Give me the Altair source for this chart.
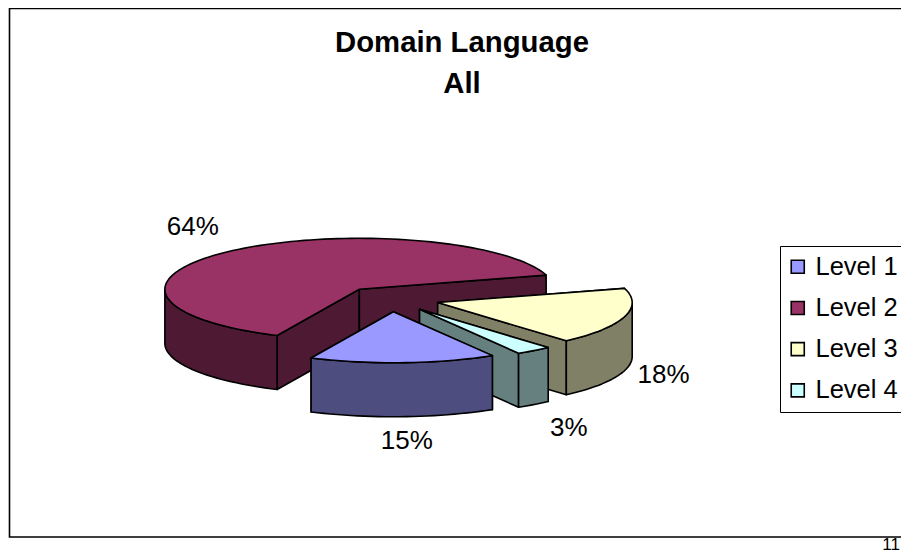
import math
import altair as alt

# ---- chart values ----
LEVELS = ["Level 1", "Level 2", "Level 3", "Level 4"]
SHARES = [15.45, 63.55, 18.0, 3.0]
TOP_COLORS = ["#9999FF", "#993366", "#FFFFCC", "#CCFFFF"]
SIDE_COLORS = ["#4D4D80", "#4D1933", "#808066", "#668080"]
TITLE_LINES = ["Domain Language", "All"]
PAGE_NUMBER = "11"

# ---- pie geometry ----
CX, CY = 391, 299
RX, RY = 194.5, 51
DEPTH = 54
EXPLODE = 0.25
START = -59.4
DRAW_ORDER = [1, 2, 3, 0]
LABEL_NUDGE = [(4, 24.3), (-40, -24), (39, 4), (35, 23)]
FONT = "Liberation Sans"


def rim(apex, t):
    r = math.radians(t)
    return [apex[0] + RX * math.cos(r), apex[1] - RY * math.sin(r)]


def sweep(hi, lo, step=2.0):
    n = max(2, int(abs(hi - lo) / step) + 1)
    return [hi + (lo - hi) * i / (n - 1) for i in range(n)]


def down(p):
    return [p[0], p[1] + DEPTH]


def feature(part, ring):
    return {
        "type": "Feature",
        "properties": {"part": part},
        "geometry": {"type": "Polygon", "coordinates": [ring + [ring[0]]]},
    }


slices, labels = {}, []
angle = START
for i, share in enumerate(SHARES):
    hi, lo = angle, angle - share * 3.6
    mid = (hi + lo) / 2
    m = math.radians(mid)
    apex = [CX + EXPLODE * RX * math.cos(m), CY - EXPLODE * RY * math.sin(m)]
    slices[i] = (hi, lo, apex)
    p = rim(apex, mid)
    if math.sin(m) < 0:
        p = down(p)
    labels.append({"lon": p[0] + LABEL_NUDGE[i][0], "lat": p[1] + LABEL_NUDGE[i][1],
                   "label": f"{round(share)}%"})
    angle = lo

features = []
for i in DRAW_ORDER:
    hi, lo, apex = slices[i]
    side = LEVELS[i] + " side"
    for t in (hi, lo):
        q = rim(apex, t)
        features.append(feature(side, [apex, q, down(q), down(apex)]))
    for k in (0, 1):
        a, b = min(hi, -360 * k), max(lo, -180 - 360 * k)
        if a > b:
            arc = [rim(apex, t) for t in sweep(a, b)]
            features.append(feature(side, arc + [down(q) for q in reversed(arc)]))
    features.append(feature(LEVELS[i], [apex] + [rim(apex, t) for t in sweep(hi, lo)]))

PROJ = dict(type="identity", scale=1, translate=[-8, -8])

frame = alt.Chart(alt.Data(values=[{
    "type": "Feature", "properties": {},
    "geometry": {"type": "Polygon", "coordinates": [[[9.5, 8.5], [960, 8.5], [960, 537], [9.5, 537], [9.5, 8.5]]]},
}], format=alt.DataFormat(type="json"))).mark_geoshape(
    fill="white", stroke="black", strokeWidth=1.6
).project(**PROJ)

pie = alt.Chart(alt.Data(values=features, format=alt.DataFormat(type="json"))).mark_geoshape(
    stroke="black", strokeWidth=1.6, strokeJoin="round"
).encode(
    fill=alt.Fill(
        "properties.part:N",
        scale=alt.Scale(domain=LEVELS + [l + " side" for l in LEVELS], range=TOP_COLORS + SIDE_COLORS),
        legend=alt.Legend(
            values=LEVELS, title=None, orient="none", legendX=772, legendY=238,
            symbolType="square", symbolSize=170, symbolStrokeColor="black", symbolStrokeWidth=1.6,
            symbolOffset=-3,
            labelFont=FONT, labelFontSize=25.5, labelColor="black", labelOffset=5, labelLimit=300,
            labelExpr="datum.label + '        '",
            rowPadding=14.2, padding=8, strokeColor="black", fillColor="white", cornerRadius=0,
        ),
    )
).project(**PROJ)

pct = alt.Chart(alt.Data(values=labels)).mark_text(
    font=FONT, fontSize=26, color="black", align="center", baseline="middle"
).encode(longitude="lon:Q", latitude="lat:Q", text="label:N").project(**PROJ)

page = alt.Chart(alt.Data(values=[{"t": PAGE_NUMBER}])).mark_text(
    font=FONT, fontSize=17, color="black", align="right", baseline="bottom"
).encode(x=alt.value(892), y=alt.value(546), text="t:N")

chart = alt.layer(frame, pie, pct, page).properties(
    width=893, height=546,
    padding=0,
    autosize=alt.AutoSizeParams(type="none"),
    title=alt.TitleParams(
        text=TITLE_LINES, font=FONT, fontSize=29.3, fontWeight="bold", color="black",
        anchor="start", align="center", baseline="top", dx=454, dy=91, offset=0, lineHeight=41,
    ),
).configure_view(stroke=None)

chart.save("out.html", embed_options={"renderer": "svg", "actions": False})
